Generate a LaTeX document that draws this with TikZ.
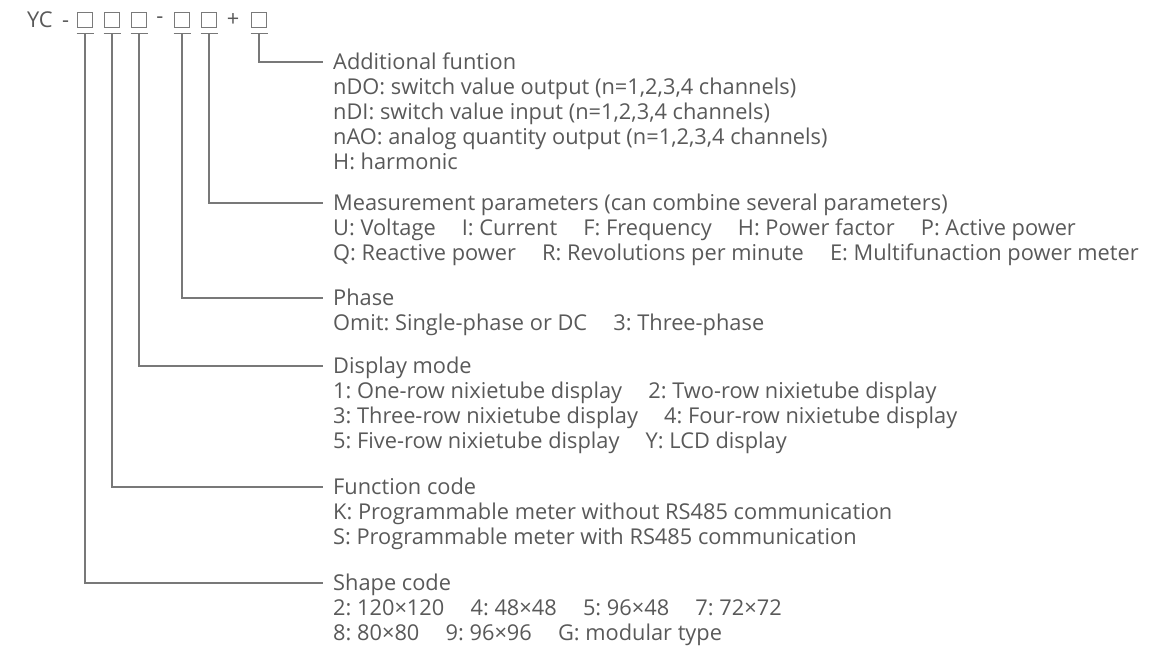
\documentclass[tikz,border=0pt]{standalone}
\usepackage{fontspec}
\setmainfont{Open Sans}
\usetikzlibrary{positioning}
\definecolor{inkgray}{HTML}{595959}
\definecolor{wiregray}{HTML}{787878}
\definecolor{boxgray}{HTML}{7A7A7A}
\newcommand{\gapsp}{\hspace{1.2em}}
\frenchspacing

\begin{document}
\begin{tikzpicture}[x=1pt, y=-1pt, font=\fontsize{21.8}{25}\selectfont\frenchspacing, text=inkgray,
  wire/.style={draw=wiregray, line width=1.1pt},
  codebox/.style={draw=boxgray, line width=1pt, minimum size=14.5pt, inner sep=0pt},
  codetxt/.style={inner sep=0pt},
  title/.style={anchor=west, inner sep=0pt, text height=15.6pt, text depth=0pt},
  body/.style={anchor=north west, inner sep=0pt, align=left}]
\useasboundingbox (0,0) rectangle (1163,649);

% model code
\node[codetxt, anchor=west] (yc) at (27,20) {YC\, -};
\node[codebox] (b1) at (85,20) {};
\node[codebox] (b2) at (112,20) {};
\node[codebox] (b3) at (139,20) {};
\node[codetxt] (dash) at (160,20) {-};
\node[codebox] (b4) at (182,20) {};
\node[codebox] (b5) at (209,20) {};
\node[codetxt] (plus) at (233,20) {+};
\node[codebox] (b6) at (259,20) {};
\foreach \b in {b1,b2,b3,b4,b5,b6}
  \draw[wire] ([xshift=-8.5pt,yshift=-6pt]\b.south) -- ([xshift=8.5pt,yshift=-6pt]\b.south);

% descriptions
\node[title] (addhd) at (333,62) {Additional funtion};
\node[body] (addtx) at (333,76.3) {\strut nDO: switch value output (n=1,2,3,4 channels)\\
  nDI: switch value input (n=1,2,3,4 channels)\\
  nAO: analog quantity output (n=1,2,3,4 channels)\\
  H: harmonic};

\node[title] (meashd) at (333,203) {Measurement parameters (can combine several parameters)};
\node[body] (meastx) at (333,217.3) {\strut U: Voltage\gapsp I: Current\gapsp F: Frequency\gapsp H: Power factor\gapsp P: Active power\\
  Q: Reactive power\gapsp R: Revolutions per minute\gapsp E: Multifunaction power meter};

\node[title] (phasehd) at (333,298) {Phase};
\node[body] (phasetx) at (333,312.3) {\strut Omit: Single-phase or DC\gapsp 3: Three-phase};

\node[title] (disphd) at (333,366) {Display mode};
\node[body] (disptx) at (333,380.3) {\strut 1: One-row nixietube display\gapsp 2: Two-row nixietube display\\
  3: Three-row nixietube display\gapsp 4: Four-row nixietube display\\
  5: Five-row nixietube display\gapsp Y: LCD display};

\node[title] (funchd) at (333,487) {Function code};
\node[body] (functx) at (333,501.3) {\strut K: Programmable meter without RS485 communication\\
  S: Programmable meter with RS485 communication};

\node[title] (shapehd) at (333,583) {Shape code};
\node[body] (shapetx) at (333,597.3) {\strut 2: 120×120\gapsp 4: 48×48\gapsp 5: 96×48\gapsp 7: 72×72\\
  8: 80×80\gapsp 9: 96×96\gapsp G: modular type};

% leader lines
\draw[wire] ([yshift=-6pt]b6.south) |- ([xshift=-10pt]addhd.west);
\draw[wire] ([yshift=-6pt]b5.south) |- ([xshift=-10pt]meashd.west);
\draw[wire] ([yshift=-6pt]b4.south) |- ([xshift=-10pt]phasehd.west);
\draw[wire] ([yshift=-6pt]b3.south) |- ([xshift=-10pt]disphd.west);
\draw[wire] ([yshift=-6pt]b2.south) |- ([xshift=-10pt]funchd.west);
\draw[wire] ([yshift=-6pt]b1.south) |- ([xshift=-10pt]shapehd.west);
\end{tikzpicture}
\end{document}
